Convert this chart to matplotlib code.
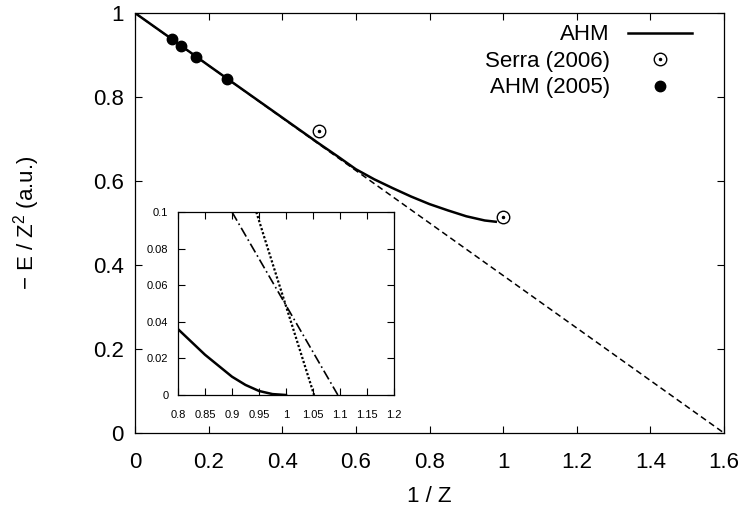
import matplotlib.pyplot as plt
from matplotlib.legend_handler import HandlerTuple

plt.rcParams['font.family'] = ['Liberation Sans', 'DejaVu Sans']
plt.rcParams['mathtext.fontset'] = 'custom'
plt.rcParams['mathtext.rm'] = 'Liberation Sans'
plt.rcParams['mathtext.it'] = 'Liberation Sans'

# main panel: -E/Z^2 vs 1/Z
ahm_x = [0, 0.1, 0.2, 0.3, 0.4, 0.5, 0.55, 0.6, 0.65, 0.7, 0.75, 0.8, 0.85, 0.9, 0.95, 0.98]
ahm_y = [1, 0.938, 0.875, 0.813, 0.751, 0.689, 0.659, 0.628, 0.604, 0.583, 0.563, 0.545, 0.53, 0.516, 0.506, 0.503]

line_x = [0, 1.6]
line_y = [1, 0]

serra_x = [0.5, 1.0]
serra_y = [0.72, 0.514]

ahm05_x = [0.1, 0.125, 0.1667, 0.25]
ahm05_y = [0.938, 0.921, 0.895, 0.843]

xticks = [0, 0.2, 0.4, 0.6, 0.8, 1, 1.2, 1.4, 1.6]
xticklabels = ['0', '0.2', '0.4', '0.6', '0.8', '1', '1.2', '1.4', '1.6']
yticks = [0, 0.2, 0.4, 0.6, 0.8, 1]
yticklabels = ['0', '0.2', '0.4', '0.6', '0.8', '1']

# inset
in_curve_x = [0.8, 0.825, 0.85, 0.875, 0.9, 0.925, 0.95, 0.975, 1.0]
in_curve_y = [0.036, 0.029, 0.022, 0.016, 0.010, 0.0055, 0.0022, 0.0005, 0]
in_dot_x = [0.945, 1.052]
in_dot_y = [0.1, 0]
in_dd_x = [0.9, 1.096]
in_dd_y = [0.1, 0]

in_xticks = [0.8, 0.85, 0.9, 0.95, 1.0, 1.05, 1.1, 1.15, 1.2]
in_xticklabels = ['0.8', '0.85', '0.9', '0.95', '1', '1.05', '1.1', '1.15', '1.2']
in_yticks = [0, 0.02, 0.04, 0.06, 0.08, 0.1]
in_yticklabels = ['0', '0.02', '0.04', '0.06', '0.08', '0.1']

fig = plt.figure(figsize=(7.47, 5.14), dpi=100)
ax = fig.add_axes([135/747, 1-433/514, 589/747, 420/514])

ax.plot(line_x, line_y, color='black', lw=1.1, dashes=(4, 2.5))
h_ahm, = ax.plot(ahm_x, ahm_y, color='black', lw=1.8)
h_s1, = ax.plot(serra_x, serra_y, 'o', ms=9, mfc='none', mec='black', mew=1.0, ls='none')
h_s2, = ax.plot(serra_x, serra_y, 'o', ms=1.5, mfc='black', mec='black', ls='none')
h_a05, = ax.plot(ahm05_x, ahm05_y, 'o', ms=7.5, color='black', ls='none')

ax.set_xlim(0, 1.6)
ax.set_ylim(0, 1)
ax.set_xticks(xticks)
ax.set_xticklabels(xticklabels)
ax.set_yticks(yticks)
ax.set_yticklabels(yticklabels)
ax.tick_params(direction='in', top=True, right=True, length=5, width=0.8, labelsize=16)
ax.tick_params(axis='x', pad=14)
ax.tick_params(axis='y', pad=8)
for s in ax.spines.values():
    s.set_linewidth(0.9)
ax.set_xlabel('1 / Z', fontsize=16, labelpad=9)
ax.set_ylabel('\u2212 E / Z$^2$ (a.u.)', fontsize=16)
ax.yaxis.set_label_coords(-0.158, 0.5)

ax.legend([h_ahm, (h_s1, h_s2), h_a05], ['AHM', 'Serra (2006)', 'AHM (2005)'],
          handler_map={tuple: HandlerTuple(ndivide=1, pad=0)},
          markerfirst=False, frameon=False, fontsize=16, handlelength=2.9,
          handletextpad=0.8, labelspacing=0.25, loc='upper right',
          bbox_to_anchor=(0.946, 0.973), borderaxespad=0, borderpad=0)

ins = fig.add_axes([178/747, 1-395/514, 216/747, 183/514])
ins.plot(in_curve_x, in_curve_y, color='black', lw=1.8)
ins.plot(in_dot_x, in_dot_y, color='black', lw=1.6, dashes=(1, 0.9))
ins.plot(in_dd_x, in_dd_y, color='black', lw=1.2, dashes=(6, 2, 1, 2))
ins.set_xlim(0.8, 1.2)
ins.set_ylim(0, 0.1)
ins.set_xticks(in_xticks)
ins.set_xticklabels(in_xticklabels)
ins.set_yticks(in_yticks)
ins.set_yticklabels(in_yticklabels)
ins.tick_params(direction='in', top=True, right=True, length=5, width=0.8, labelsize=8)
ins.tick_params(axis='x', pad=11)
ins.tick_params(axis='y', pad=7)
for s in ins.spines.values():
    s.set_linewidth(0.9)

fig.savefig('out.png', dpi=100)
